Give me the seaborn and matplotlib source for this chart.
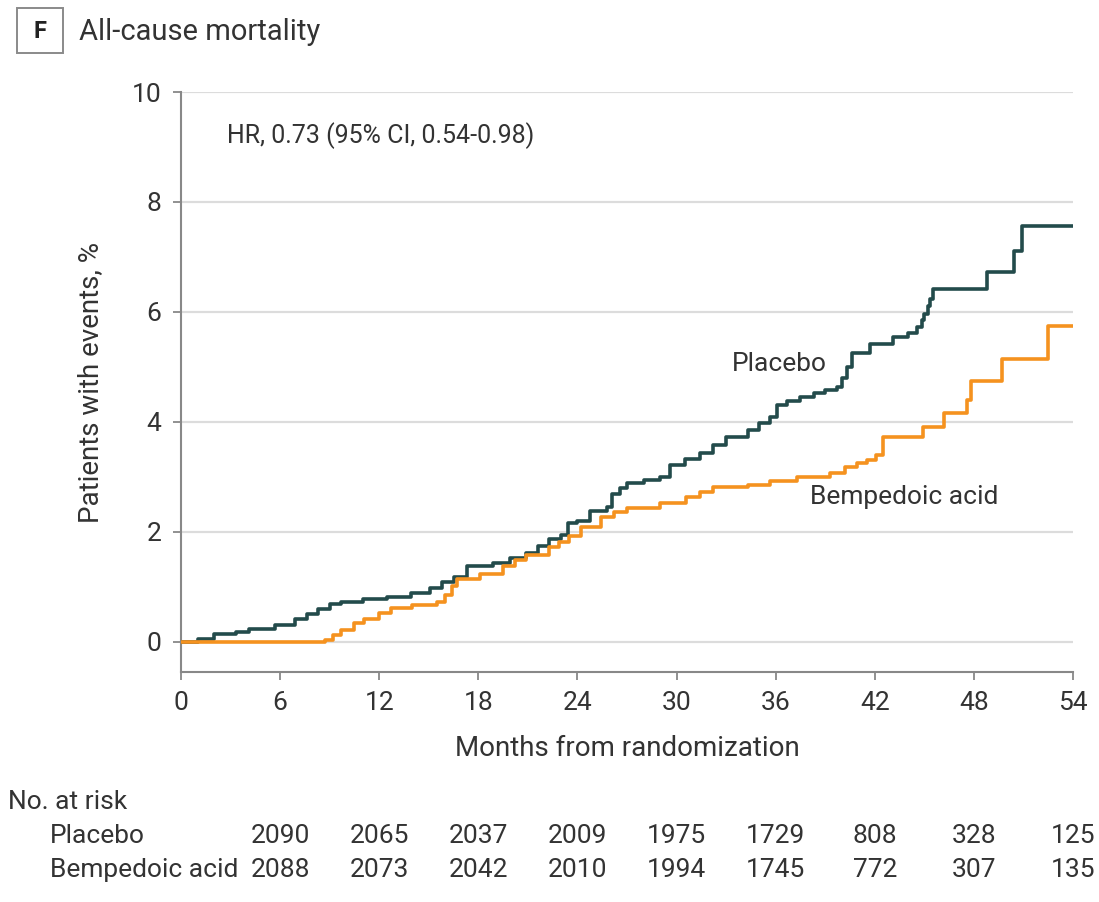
import numpy as np
import pandas as pd
import matplotlib
matplotlib.use("Agg")
import matplotlib.pyplot as plt
import matplotlib.transforms as mtransforms
from matplotlib.patches import Rectangle
import seaborn as sns

# ---------------- data ----------------
placebo_months = [0, 1.0, 2.0, 3.3, 4.1, 5.7, 6.9, 7.6, 8.3, 9.0, 9.7, 11.0, 12.5, 13.9,
                  15.1, 15.8, 16.5, 17.3, 18.9, 19.9, 20.9, 21.6, 22.3, 23.0, 23.4, 24.0,
                  24.76, 25.8, 26.1, 26.6, 27.0, 28.0, 29.0, 29.6, 30.5, 31.4, 32.2, 33.0,
                  34.3, 35.0, 35.65, 36.1, 36.7, 37.5, 38.3, 39.0, 39.7, 40.0, 40.3, 40.6,
                  41.7, 43.1, 44.0, 44.55, 44.85, 45.0, 45.2, 45.35, 45.5, 48.8, 50.4, 50.9, 54]
placebo_pct = [0, 0.05, 0.14, 0.18, 0.24, 0.30, 0.42, 0.50, 0.60, 0.68, 0.72, 0.78, 0.82, 0.88,
               0.98, 1.08, 1.18, 1.38, 1.44, 1.52, 1.62, 1.75, 1.87, 1.95, 2.16, 2.20,
               2.38, 2.45, 2.68, 2.80, 2.88, 2.94, 3.00, 3.22, 3.32, 3.44, 3.58, 3.72,
               3.85, 3.98, 4.09, 4.30, 4.38, 4.46, 4.52, 4.58, 4.64, 4.80, 5.00, 5.25,
               5.42, 5.55, 5.62, 5.72, 5.85, 5.97, 6.10, 6.24, 6.42, 6.73, 7.10, 7.57, 7.57]

bempedoic_months = [0, 8.7, 9.2, 9.7, 10.5, 11.1, 12.0, 12.7, 14.0, 15.5, 16.0, 16.4, 16.7,
                    18.1, 19.5, 20.2, 20.9, 22.3, 22.9, 23.5, 24.2, 25.4, 26.2, 27.0, 29.0,
                    30.6, 31.4, 32.2, 34.3, 35.65, 37.3, 39.3, 40.2, 40.9, 41.5, 42.1, 42.5,
                    44.9, 46.2, 47.6, 47.8, 49.7, 52.5, 54]
bempedoic_pct = [0, 0.04, 0.12, 0.22, 0.34, 0.42, 0.52, 0.62, 0.66, 0.72, 0.85, 1.02, 1.15,
                 1.24, 1.38, 1.48, 1.58, 1.73, 1.82, 1.92, 2.08, 2.27, 2.36, 2.44, 2.53,
                 2.64, 2.72, 2.82, 2.86, 2.92, 3.00, 3.07, 3.18, 3.26, 3.30, 3.40, 3.73,
                 3.91, 4.16, 4.40, 4.74, 5.15, 5.75, 5.75]

x_ticks = [0, 6, 12, 18, 24, 30, 36, 42, 48, 54]
y_ticks = [0, 2, 4, 6, 8, 10]

risk_months = [6, 12, 18, 24, 30, 36, 42, 48, 54]
risk_placebo = [2090, 2065, 2037, 2009, 1975, 1729, 808, 328, 125]
risk_bempedoic = [2088, 2073, 2042, 2010, 1994, 1745, 772, 307, 135]

group_names = ["Placebo", "Bempedoic acid"]

# ---------------- style ----------------
sns.set_theme(style="white")
plt.rcParams["font.family"] = ["Liberation Sans Narrow", "Roboto", "DejaVu Sans"]
TXT = "#333333"
C_PLA = "#234b4b"
C_BEM = "#f5921f"
GRID = "#dcdcdc"
FS = 19

fig = plt.figure(figsize=(10.99, 9.02), dpi=100)
ax = fig.add_axes([181 / 1099, 1 - 672 / 902, (1073 - 181) / 1099, (672 - 92) / 902])

df = pd.concat([
    pd.DataFrame({"month": placebo_months, "pct": placebo_pct, "group": group_names[0]}),
    pd.DataFrame({"month": bempedoic_months, "pct": bempedoic_pct, "group": group_names[1]}),
])

for yt in y_ticks:
    ax.axhline(yt, color=GRID, lw=1.6, zorder=0)

sns.lineplot(data=df, x="month", y="pct", hue="group", palette=[C_PLA, C_BEM],
             hue_order=group_names, estimator=None, sort=False, drawstyle="steps-post",
             lw=2.6, legend=False, ax=ax, zorder=3)

ax.set_xlim(0, 54)
ax.set_ylim(-0.55, 10)
ax.set_xticks(x_ticks)
ax.set_yticks(y_ticks)
ax.set_xticklabels([str(v) for v in x_ticks], fontsize=FS, color=TXT)
ax.set_yticklabels([str(v) for v in y_ticks], fontsize=FS, color=TXT)
for s in ["top", "right"]:
    ax.spines[s].set_visible(False)
for s in ["left", "bottom"]:
    ax.spines[s].set_color("#888888")
    ax.spines[s].set_linewidth(1.5)
ax.tick_params(axis="both", which="major", direction="out", length=6, width=1.3,
               color="#888888", pad=8, left=True, bottom=True)
ax.set_xlabel("Months from randomization", fontsize=FS + 1, color=TXT, labelpad=14)
ax.set_ylabel("Patients with events, %", fontsize=FS + 1, color=TXT, labelpad=20)

ax.text(2.8, 9.2, "HR, 0.73 (95% CI, 0.54-0.98)", fontsize=FS - 1, color=TXT, va="center")
ax.text(36.2, 5.05, "Placebo", fontsize=FS, color=TXT, va="center", ha="center")
ax.text(43.8, 2.64, "Bempedoic acid", fontsize=FS, color=TXT, va="center", ha="center")

# title with boxed panel letter
fig.patches.append(Rectangle((17 / 1099, 1 - 53 / 902), 46 / 1099, 45 / 902,
                             transform=fig.transFigure, fill=False, ec="#8a8a8a", lw=1.4))
fig.text(40 / 1099, 1 - 31 / 902, "F", fontsize=FS - 2, fontweight="bold", color="#222222",
         ha="center", va="center")
fig.text(79 / 1099, 1 - 32 / 902, "All-cause mortality", fontsize=FS + 2, color=TXT,
         ha="left", va="center")

# number at risk table
tr = mtransforms.blended_transform_factory(ax.transData, fig.transFigure)
fig.text(8 / 1099, 1 - 802 / 902, "No. at risk", fontsize=FS, color=TXT, ha="left", va="center")
fig.text(50 / 1099, 1 - 836 / 902, group_names[0], fontsize=FS, color=TXT, ha="left", va="center")
fig.text(50 / 1099, 1 - 870 / 902, group_names[1], fontsize=FS, color=TXT, ha="left", va="center")
for m, p, b in zip(risk_months, risk_placebo, risk_bempedoic):
    ax.text(m, 1 - 836 / 902, str(p), transform=tr, fontsize=FS, color=TXT,
            ha="center", va="center", clip_on=False)
    ax.text(m, 1 - 870 / 902, str(b), transform=tr, fontsize=FS, color=TXT,
            ha="center", va="center", clip_on=False)

fig.savefig("out.png", dpi=100, facecolor="white")
